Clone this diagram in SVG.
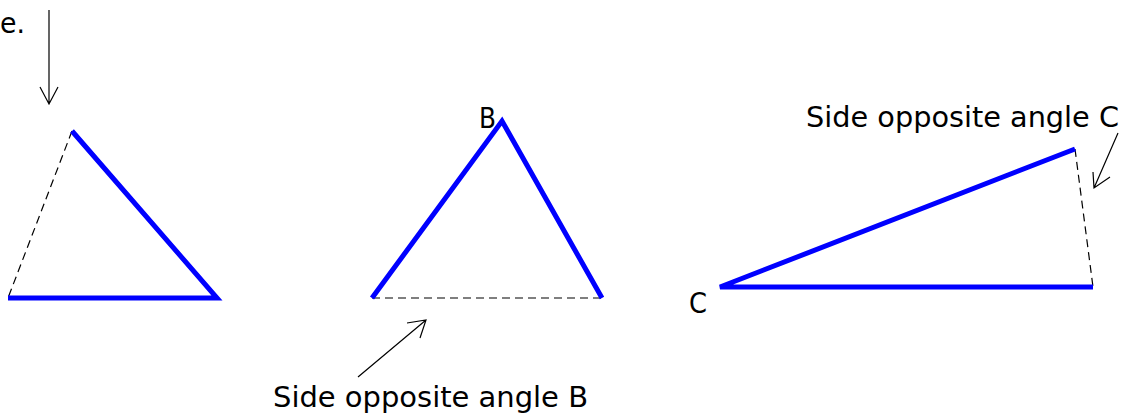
<svg xmlns="http://www.w3.org/2000/svg" width="1125" height="418" viewBox="0 0 1125 418">
<style>
.side{stroke:#0000ff;stroke-width:5;fill:none;stroke-linecap:butt;stroke-linejoin:miter}
.dash{stroke:#000;stroke-width:1.2;fill:none;stroke-dasharray:8,5}
.arr{stroke:#000;stroke-width:1.2;fill:none}
.lbl{font-family:"DejaVu Sans","Liberation Sans",sans-serif;font-size:29px;fill:#000}
</style>
<rect width="1125" height="418" fill="#fff"/>
<g id="triangle1">
<path class="dash" d="M72,131 L8,298"/>
<path class="side" d="M72,131 L217,298 L8,298"/>
</g>
<g id="triangle2">
<path class="dash" d="M372,298 L602,298"/>
<path class="side" d="M372,298 L502,121 L602,298"/>
<text class="lbl" x="479" y="128" textLength="17" lengthAdjust="spacingAndGlyphs">B</text>
</g>
<g id="triangle3">
<path class="dash" d="M1075,149 L1093,287"/>
<path class="side" d="M1075,149 L720,287 L1093,287"/>
<text class="lbl" x="689" y="313" textLength="18" lengthAdjust="spacingAndGlyphs">C</text>
</g>
<g id="labels">
<text class="lbl" x="0" y="33" textLength="25" lengthAdjust="spacingAndGlyphs">e.</text>
<text class="lbl" x="273" y="407" textLength="315" lengthAdjust="spacingAndGlyphs">Side opposite angle B</text>
<text class="lbl" x="806" y="127" textLength="313" lengthAdjust="spacingAndGlyphs">Side opposite angle C</text>
</g>
<g id="connectors">
<path class="arr" d="M49,10 L49,104 M40,87 L49,104 L58,87"/>
<path class="arr" d="M358,377 L426,320 M407,323 L426,320 L420,338"/>
<path class="arr" d="M1118,133 L1094,188 M1093,172 L1094,188 L1110,177"/>
</g>
</svg>
